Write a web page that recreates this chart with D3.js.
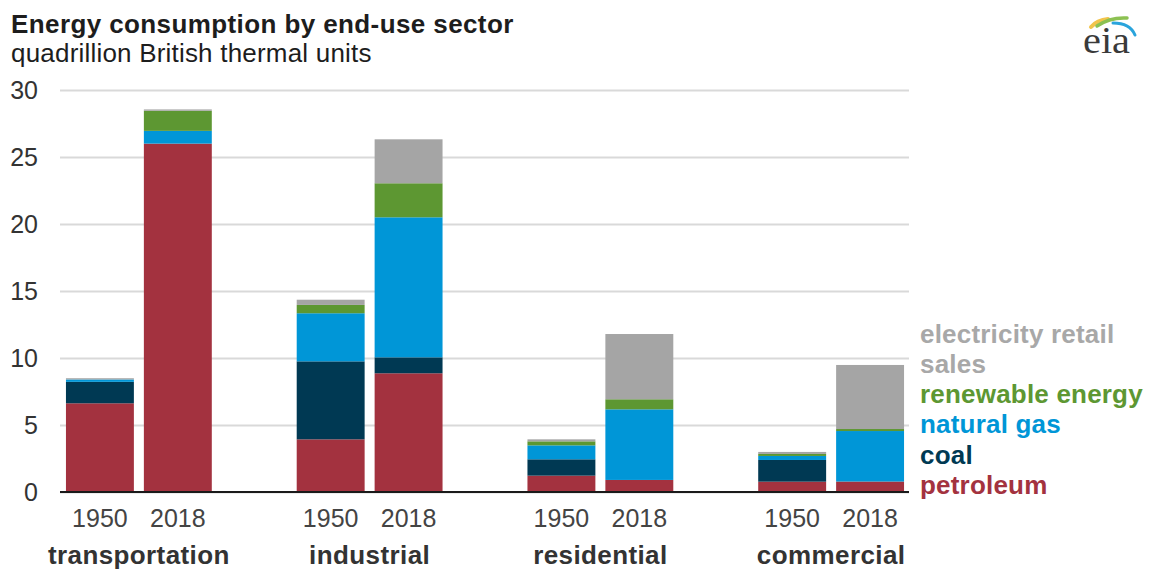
<!DOCTYPE html>
<html>
<head>
<meta charset="utf-8">
<script src="https://cdn.jsdelivr.net/npm/d3@7"></script>
<style>
  html, body { margin: 0; padding: 0; background: #fff; }
  svg { display: block; font-family: "Liberation Sans", Arial, sans-serif; }
</style>
</head>
<body>
<svg id="chart" width="1155" height="572"></svg>
<script>
// End-use sectors and the two years compared in each
const categories = ["transportation", "industrial", "residential", "commercial"];
const years = ["1950", "2018"];

// Consumption by source, quadrillion Btu, ordered sector by sector: [1950, 2018, 1950, 2018, ...]
const petroleum   = [6.62, 26.0, 3.93, 8.86, 1.22, 0.90, 0.77, 0.77];
const coal        = [1.60, 0.00, 5.82, 1.19, 1.22, 0.00, 1.62, 0.02];
const naturalGas  = [0.18, 0.95, 3.59, 10.45, 1.04, 5.27, 0.30, 3.76];
const renewable   = [0.00, 1.50, 0.62, 2.54, 0.30, 0.75, 0.15, 0.15];
const electricity = [0.09, 0.10, 0.39, 3.28, 0.15, 4.87, 0.15, 4.78];

const seriesKeys = ["petroleum", "coal", "natural gas", "renewable energy", "electricity retail sales"];
const seriesColors = ["#a3323f", "#003953", "#0096d7", "#5d9732", "#a5a5a5"];
const yTicks = [0, 5, 10, 15, 20, 25, 30];

// Build one row per bar
const rows = [];
categories.forEach((c, ci) => {
  years.forEach((yr, yi) => {
    const i = ci * 2 + yi;
    rows.push({
      category: c, year: yr,
      "petroleum": petroleum[i],
      "coal": coal[i],
      "natural gas": naturalGas[i],
      "renewable energy": renewable[i],
      "electricity retail sales": electricity[i]
    });
  });
});

const svg = d3.select("#chart");

const plotLeft = 60, plotRight = 909;
const y = d3.scaleLinear().domain([0, 30]).range([492, 90]);

const x0 = d3.scaleBand().domain(categories)
  .range([23.5, 946.5]).paddingInner(0.368).paddingOuter(0.184);
const x1 = d3.scaleBand().domain(years)
  .range([0, x0.bandwidth()]).paddingInner(10 / 78);

const color = d3.scaleOrdinal().domain(seriesKeys).range(seriesColors);

// Title
svg.append("text").attr("x", 11).attr("y", 33)
  .attr("font-size", 26).attr("font-weight", "bold").attr("fill", "#1d1d1d")
  .attr("letter-spacing", 0.4)
  .text("Energy consumption by end-use sector");
svg.append("text").attr("x", 11).attr("y", 62)
  .attr("font-size", 26).attr("fill", "#1d1d1d")
  .attr("letter-spacing", 0.2)
  .text("quadrillion British thermal units");

// Gridlines and value axis labels
const yAxis = d3.axisLeft(y).tickValues(yTicks).tickSize(-(plotRight - plotLeft)).tickPadding(22);
const gy = svg.append("g").attr("transform", `translate(${plotLeft},0)`).call(yAxis);
gy.select(".domain").remove();
gy.selectAll(".tick line").attr("stroke", "#d9d9d9").attr("stroke-width", 2);
gy.selectAll(".tick text").attr("font-size", 25).attr("fill", "#333")
  .attr("font-family", "Liberation Sans, Arial, sans-serif");

// Stacked bars
const stacked = d3.stack().keys(seriesKeys)(rows);
svg.append("g").selectAll("g").data(stacked).join("g")
  .attr("fill", d => color(d.key))
  .selectAll("rect").data(d => d).join("rect")
  .attr("x", d => x0(d.data.category) + x1(d.data.year))
  .attr("width", x1.bandwidth())
  .attr("y", d => y(d[1]))
  .attr("height", d => Math.max(0, y(d[0]) - y(d[1])));

// Baseline
svg.append("line").attr("x1", plotLeft).attr("x2", plotRight)
  .attr("y1", y(0)).attr("y2", y(0))
  .attr("stroke", "#1a1a1a").attr("stroke-width", 2);

// Year labels and sector labels
const gx = svg.append("g");
rows.forEach(r => {
  gx.append("text")
    .attr("x", x0(r.category) + x1(r.year) + x1.bandwidth() / 2)
    .attr("y", 527).attr("text-anchor", "middle")
    .attr("font-size", 25).attr("fill", "#444").text(r.year);
});
categories.forEach(c => {
  gx.append("text")
    .attr("x", x0(c) + x0.bandwidth() / 2)
    .attr("y", 564).attr("text-anchor", "middle")
    .attr("font-size", 26).attr("font-weight", "bold").attr("fill", "#333")
    .attr("letter-spacing", 0.4).text(c);
});

// Legend (top to bottom matches the stack order)
const legendLines = [
  { text: "electricity retail", key: "electricity retail sales", y: 343 },
  { text: "sales", key: "electricity retail sales", y: 373 },
  { text: "renewable energy", key: "renewable energy", y: 403 },
  { text: "natural gas", key: "natural gas", y: 433 },
  { text: "coal", key: "coal", y: 464 },
  { text: "petroleum", key: "petroleum", y: 494 }
];
svg.append("g").selectAll("text").data(legendLines).join("text")
  .attr("x", 920).attr("y", d => d.y)
  .attr("font-size", 26).attr("font-weight", "bold").attr("letter-spacing", 0.2)
  .attr("fill", d => d.key === "electricity retail sales" ? "#a8a8a8" : color(d.key))
  .text(d => d.text);

// eia logo
const logo = svg.append("g");
logo.append("path").attr("d", "M1091,27 Q1097,20 1108,19").attr("fill", "none")
  .attr("stroke", "#f2c44b").attr("stroke-width", 4).attr("stroke-linecap", "round");
logo.append("path").attr("d", "M1097,26 Q1110,17 1127,18").attr("fill", "none")
  .attr("stroke", "#8cc152").attr("stroke-width", 3.5).attr("stroke-linecap", "round");
logo.append("path").attr("d", "M1113,23 Q1130,23 1135,35").attr("fill", "none")
  .attr("stroke", "#2aa4dc").attr("stroke-width", 3).attr("stroke-linecap", "round");
logo.append("text").attr("x", 1083).attr("y", 53)
  .attr("font-family", "Liberation Serif, 'DejaVu Serif', serif")
  .attr("font-size", 37).attr("fill", "#3a3a3a")
  .attr("textLength", 47).attr("lengthAdjust", "spacingAndGlyphs").text("eia");
</script>
</body>
</html>
